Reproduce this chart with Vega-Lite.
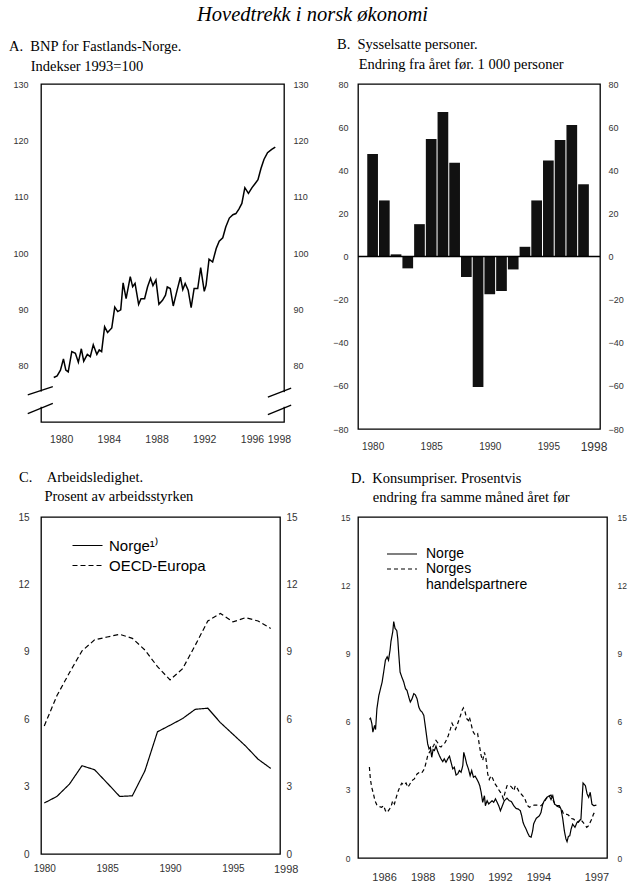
{
  "$schema": "https://vega.github.io/schema/vega-lite/v6.json",
  "background": "white",
  "padding": {"left": 8, "top": 5, "right": 0, "bottom": 0},
  "title": {"text": "Hovedtrekk i norsk økonomi", "font": "Liberation Serif", "fontSize": 20.5, "fontStyle": "italic", "fontWeight": "normal", "color": "#000", "anchor": "start", "frame": "group", "dx": 156, "offset": 10},
  "columns": 2,
  "spacing": {"row": 88, "column": 74},
  "bounds": "flush",
  "resolve": {"scale": {"strokeDash": "independent"}, "legend": {"strokeDash": "independent"}},
  "config": {
    "view": {"stroke": "#000", "strokeWidth": 1.3},
    "axis": {"ticks": false, "domain": false, "grid": false, "labelFont": "Liberation Sans", "labelColor": "#333", "labelOverlap": false, "labelBound": false},
    "title": {"font": "Liberation Serif", "fontWeight": "normal", "color": "#000", "fontSize": 14.5, "anchor": "start", "frame": "group", "lineHeight": 20},
    "legend": {"padding": 0, "symbolType": "M-3,0H3", "symbolSize": 100, "symbolStrokeWidth": 1.2, "labelFont": "Liberation Sans", "labelColor": "#000"}
  },
  "datasets": {
    "bnp": [
      {"year": 1979.39, "value": 77.9}, {"year": 1979.67, "value": 78.2}, {"year": 1979.95, "value": 79.2}, {"year": 1980.2, "value": 81.2},
      {"year": 1980.4, "value": 79.2}, {"year": 1980.6, "value": 78.9}, {"year": 1980.9, "value": 82.5}, {"year": 1981.2, "value": 82.2},
      {"year": 1981.45, "value": 80.6}, {"year": 1981.7, "value": 83.0}, {"year": 1981.9, "value": 80.8}, {"year": 1982.2, "value": 82.0},
      {"year": 1982.45, "value": 81.6}, {"year": 1982.7, "value": 83.7}, {"year": 1983.0, "value": 82.0}, {"year": 1983.2, "value": 82.8},
      {"year": 1983.4, "value": 82.5}, {"year": 1983.65, "value": 86.9}, {"year": 1983.9, "value": 85.9}, {"year": 1984.25, "value": 86.7},
      {"year": 1984.5, "value": 90.4}, {"year": 1984.75, "value": 89.6}, {"year": 1985.0, "value": 89.9}, {"year": 1985.2, "value": 94.7},
      {"year": 1985.45, "value": 91.9}, {"year": 1985.8, "value": 95.8}, {"year": 1986.0, "value": 94.0}, {"year": 1986.2, "value": 94.6},
      {"year": 1986.5, "value": 90.9}, {"year": 1986.7, "value": 91.9}, {"year": 1987.0, "value": 91.9}, {"year": 1987.25, "value": 94.0},
      {"year": 1987.5, "value": 95.5}, {"year": 1987.7, "value": 94.2}, {"year": 1987.95, "value": 95.2}, {"year": 1988.2, "value": 90.9},
      {"year": 1988.5, "value": 91.6}, {"year": 1988.75, "value": 92.5}, {"year": 1988.9, "value": 94.0}, {"year": 1989.15, "value": 93.7},
      {"year": 1989.4, "value": 90.6}, {"year": 1989.7, "value": 93.2}, {"year": 1990.0, "value": 95.7}, {"year": 1990.2, "value": 93.5},
      {"year": 1990.4, "value": 94.6}, {"year": 1990.65, "value": 93.4}, {"year": 1990.9, "value": 90.3}, {"year": 1991.15, "value": 93.7},
      {"year": 1991.45, "value": 93.7}, {"year": 1991.7, "value": 97.4}, {"year": 1992.0, "value": 93.2}, {"year": 1992.15, "value": 94.3},
      {"year": 1992.4, "value": 98.9}, {"year": 1992.7, "value": 98.4}, {"year": 1993.0, "value": 100.8}, {"year": 1993.25, "value": 102.1},
      {"year": 1993.55, "value": 102.7}, {"year": 1993.8, "value": 104.6}, {"year": 1994.1, "value": 106.2}, {"year": 1994.4, "value": 106.8},
      {"year": 1994.65, "value": 107.0}, {"year": 1994.9, "value": 107.8}, {"year": 1995.15, "value": 108.8}, {"year": 1995.4, "value": 111.6},
      {"year": 1995.7, "value": 110.6}, {"year": 1996.0, "value": 111.6}, {"year": 1996.25, "value": 112.3}, {"year": 1996.5, "value": 113.0},
      {"year": 1996.75, "value": 115.0}, {"year": 1997.0, "value": 116.6}, {"year": 1997.3, "value": 117.8}, {"year": 1997.65, "value": 118.4},
      {"year": 1997.95, "value": 118.8}
    ],
    "bnpGap": [
      {"x": 1978.17, "x2": 1978.47, "y": 72.7, "y2": 75.4},
      {"x": 1998.53, "x2": 1998.83, "y": 72.7, "y2": 75.3}
    ],
    "bnpBreak": [
      {"x": 1977.21, "y": 74.8, "x2": 1979.31, "y2": 76.3},
      {"x": 1977.21, "y": 71.5, "x2": 1979.31, "y2": 73.3},
      {"x": 1997.33, "y": 74.4, "x2": 1999.28, "y2": 76.0},
      {"x": 1997.33, "y": 71.3, "x2": 1999.28, "y2": 73.0}
    ],
    "sys": [
      {"year": 1980, "value": 47.5}, {"year": 1981, "value": 26}, {"year": 1982, "value": 1}, {"year": 1983, "value": -5.5},
      {"year": 1984, "value": 15}, {"year": 1985, "value": 54.5}, {"year": 1986, "value": 67}, {"year": 1987, "value": 43.5},
      {"year": 1988, "value": -9.5}, {"year": 1989, "value": -60.5}, {"year": 1990, "value": -17.5}, {"year": 1991, "value": -16},
      {"year": 1992, "value": -6}, {"year": 1993, "value": 4.5}, {"year": 1994, "value": 26}, {"year": 1995, "value": 44.5},
      {"year": 1996, "value": 54}, {"year": 1997, "value": 61}, {"year": 1998, "value": 33.5}
    ],
    "ledig": [
      {"year": 1980, "value": 2.27, "series": "Norge¹⁾"}, {"year": 1981, "value": 2.56, "series": "Norge¹⁾"},
      {"year": 1982, "value": 3.11, "series": "Norge¹⁾"}, {"year": 1983, "value": 3.93, "series": "Norge¹⁾"},
      {"year": 1984, "value": 3.75, "series": "Norge¹⁾"}, {"year": 1985, "value": 3.16, "series": "Norge¹⁾"},
      {"year": 1986, "value": 2.56, "series": "Norge¹⁾"}, {"year": 1987, "value": 2.59, "series": "Norge¹⁾"},
      {"year": 1988, "value": 3.7, "series": "Norge¹⁾"}, {"year": 1989, "value": 5.44, "series": "Norge¹⁾"},
      {"year": 1990, "value": 5.73, "series": "Norge¹⁾"}, {"year": 1991, "value": 6.03, "series": "Norge¹⁾"},
      {"year": 1992, "value": 6.44, "series": "Norge¹⁾"}, {"year": 1993, "value": 6.49, "series": "Norge¹⁾"},
      {"year": 1994, "value": 5.85, "series": "Norge¹⁾"}, {"year": 1995, "value": 5.33, "series": "Norge¹⁾"},
      {"year": 1996, "value": 4.81, "series": "Norge¹⁾"}, {"year": 1997, "value": 4.22, "series": "Norge¹⁾"},
      {"year": 1998, "value": 3.81, "series": "Norge¹⁾"},
      {"year": 1980, "value": 5.7, "series": "OECD-Europa"}, {"year": 1981, "value": 7.04, "series": "OECD-Europa"},
      {"year": 1982, "value": 8.07, "series": "OECD-Europa"}, {"year": 1983, "value": 9.04, "series": "OECD-Europa"},
      {"year": 1984, "value": 9.53, "series": "OECD-Europa"}, {"year": 1985, "value": 9.66, "series": "OECD-Europa"},
      {"year": 1986, "value": 9.78, "series": "OECD-Europa"}, {"year": 1987, "value": 9.6, "series": "OECD-Europa"},
      {"year": 1988, "value": 9.08, "series": "OECD-Europa"}, {"year": 1989, "value": 8.34, "series": "OECD-Europa"},
      {"year": 1990, "value": 7.75, "series": "OECD-Europa"}, {"year": 1991, "value": 8.25, "series": "OECD-Europa"},
      {"year": 1992, "value": 9.29, "series": "OECD-Europa"}, {"year": 1993, "value": 10.37, "series": "OECD-Europa"},
      {"year": 1994, "value": 10.71, "series": "OECD-Europa"}, {"year": 1995, "value": 10.33, "series": "OECD-Europa"},
      {"year": 1996, "value": 10.52, "series": "OECD-Europa"}, {"year": 1997, "value": 10.37, "series": "OECD-Europa"},
      {"year": 1998, "value": 10.04, "series": "OECD-Europa"}
    ],
    "kpi": [
      {"year": 1985.24, "value": 6.1, "series": "Norge"}, {"year": 1985.3, "value": 6.15, "series": "Norge"},
      {"year": 1985.37, "value": 5.9, "series": "Norge"}, {"year": 1985.42, "value": 5.54, "series": "Norge"},
      {"year": 1985.51, "value": 5.83, "series": "Norge"}, {"year": 1985.56, "value": 5.65, "series": "Norge"},
      {"year": 1985.63, "value": 6.57, "series": "Norge"}, {"year": 1985.73, "value": 7.15, "series": "Norge"},
      {"year": 1985.9, "value": 7.74, "series": "Norge"}, {"year": 1985.98, "value": 8.18, "series": "Norge"},
      {"year": 1986.07, "value": 8.7, "series": "Norge"}, {"year": 1986.16, "value": 8.85, "series": "Norge"},
      {"year": 1986.23, "value": 8.7, "series": "Norge"}, {"year": 1986.31, "value": 9.14, "series": "Norge"},
      {"year": 1986.36, "value": 9.54, "series": "Norge"}, {"year": 1986.45, "value": 9.95, "series": "Norge"},
      {"year": 1986.5, "value": 10.4, "series": "Norge"}, {"year": 1986.57, "value": 10.1, "series": "Norge"},
      {"year": 1986.66, "value": 10.0, "series": "Norge"}, {"year": 1986.71, "value": 9.65, "series": "Norge"},
      {"year": 1986.76, "value": 9.0, "series": "Norge"}, {"year": 1986.83, "value": 8.18, "series": "Norge"},
      {"year": 1986.92, "value": 7.96, "series": "Norge"}, {"year": 1987.02, "value": 7.74, "series": "Norge"},
      {"year": 1987.11, "value": 7.45, "series": "Norge"}, {"year": 1987.19, "value": 7.37, "series": "Norge"},
      {"year": 1987.28, "value": 7.08, "series": "Norge"}, {"year": 1987.36, "value": 6.86, "series": "Norge"},
      {"year": 1987.45, "value": 7.0, "series": "Norge"}, {"year": 1987.54, "value": 7.23, "series": "Norge"},
      {"year": 1987.62, "value": 7.18, "series": "Norge"}, {"year": 1987.71, "value": 7.0, "series": "Norge"},
      {"year": 1987.8, "value": 6.64, "series": "Norge"}, {"year": 1987.88, "value": 6.49, "series": "Norge"},
      {"year": 1987.97, "value": 6.42, "series": "Norge"}, {"year": 1988.06, "value": 6.27, "series": "Norge"},
      {"year": 1988.12, "value": 5.9, "series": "Norge"}, {"year": 1988.19, "value": 5.46, "series": "Norge"},
      {"year": 1988.26, "value": 5.02, "series": "Norge"}, {"year": 1988.33, "value": 4.8, "series": "Norge"},
      {"year": 1988.4, "value": 4.87, "series": "Norge"}, {"year": 1988.47, "value": 4.43, "series": "Norge"},
      {"year": 1988.54, "value": 4.77, "series": "Norge"}, {"year": 1988.61, "value": 4.73, "series": "Norge"},
      {"year": 1988.69, "value": 4.92, "series": "Norge"}, {"year": 1988.78, "value": 4.68, "series": "Norge"},
      {"year": 1988.87, "value": 4.5, "series": "Norge"}, {"year": 1988.95, "value": 4.36, "series": "Norge"},
      {"year": 1989.04, "value": 4.24, "series": "Norge"}, {"year": 1989.12, "value": 4.36, "series": "Norge"},
      {"year": 1989.21, "value": 4.21, "series": "Norge"}, {"year": 1989.3, "value": 4.36, "series": "Norge"},
      {"year": 1989.39, "value": 4.48, "series": "Norge"}, {"year": 1989.47, "value": 4.21, "series": "Norge"},
      {"year": 1989.56, "value": 3.92, "series": "Norge"}, {"year": 1989.64, "value": 3.99, "series": "Norge"},
      {"year": 1989.73, "value": 3.65, "series": "Norge"}, {"year": 1989.82, "value": 3.7, "series": "Norge"},
      {"year": 1989.9, "value": 3.85, "series": "Norge"}, {"year": 1989.99, "value": 3.77, "series": "Norge"},
      {"year": 1990.08, "value": 4.07, "series": "Norge"}, {"year": 1990.13, "value": 4.65, "series": "Norge"},
      {"year": 1990.2, "value": 4.43, "series": "Norge"}, {"year": 1990.28, "value": 4.14, "series": "Norge"},
      {"year": 1990.37, "value": 3.92, "series": "Norge"}, {"year": 1990.46, "value": 3.62, "series": "Norge"},
      {"year": 1990.54, "value": 3.85, "series": "Norge"}, {"year": 1990.63, "value": 3.55, "series": "Norge"},
      {"year": 1990.72, "value": 3.6, "series": "Norge"}, {"year": 1990.8, "value": 3.48, "series": "Norge"},
      {"year": 1990.89, "value": 3.33, "series": "Norge"}, {"year": 1990.96, "value": 3.18, "series": "Norge"},
      {"year": 1991.03, "value": 2.89, "series": "Norge"}, {"year": 1991.11, "value": 2.45, "series": "Norge"},
      {"year": 1991.2, "value": 2.74, "series": "Norge"}, {"year": 1991.25, "value": 2.3, "series": "Norge"},
      {"year": 1991.34, "value": 2.52, "series": "Norge"}, {"year": 1991.42, "value": 2.38, "series": "Norge"},
      {"year": 1991.51, "value": 2.45, "series": "Norge"}, {"year": 1991.6, "value": 2.52, "series": "Norge"},
      {"year": 1991.68, "value": 2.45, "series": "Norge"}, {"year": 1991.77, "value": 2.6, "series": "Norge"},
      {"year": 1991.86, "value": 2.45, "series": "Norge"}, {"year": 1991.94, "value": 2.3, "series": "Norge"},
      {"year": 1992.03, "value": 2.08, "series": "Norge"}, {"year": 1992.13, "value": 2.3, "series": "Norge"},
      {"year": 1992.23, "value": 2.52, "series": "Norge"}, {"year": 1992.37, "value": 2.63, "series": "Norge"},
      {"year": 1992.49, "value": 2.52, "series": "Norge"}, {"year": 1992.6, "value": 2.48, "series": "Norge"},
      {"year": 1992.72, "value": 2.3, "series": "Norge"}, {"year": 1992.84, "value": 2.18, "series": "Norge"},
      {"year": 1992.96, "value": 2.15, "series": "Norge"}, {"year": 1993.06, "value": 2.08, "series": "Norge"},
      {"year": 1993.13, "value": 1.86, "series": "Norge"}, {"year": 1993.2, "value": 1.57, "series": "Norge"},
      {"year": 1993.27, "value": 1.42, "series": "Norge"}, {"year": 1993.36, "value": 1.27, "series": "Norge"},
      {"year": 1993.44, "value": 1.1, "series": "Norge"}, {"year": 1993.53, "value": 0.95, "series": "Norge"},
      {"year": 1993.62, "value": 0.92, "series": "Norge"}, {"year": 1993.7, "value": 1.2, "series": "Norge"},
      {"year": 1993.75, "value": 1.5, "series": "Norge"}, {"year": 1993.88, "value": 1.74, "series": "Norge"},
      {"year": 1994.05, "value": 1.86, "series": "Norge"}, {"year": 1994.13, "value": 2.0, "series": "Norge"},
      {"year": 1994.22, "value": 2.37, "series": "Norge"}, {"year": 1994.3, "value": 2.52, "series": "Norge"},
      {"year": 1994.44, "value": 2.67, "series": "Norge"}, {"year": 1994.56, "value": 2.74, "series": "Norge"},
      {"year": 1994.65, "value": 2.57, "series": "Norge"}, {"year": 1994.74, "value": 2.74, "series": "Norge"},
      {"year": 1994.83, "value": 2.37, "series": "Norge"}, {"year": 1994.96, "value": 2.3, "series": "Norge"},
      {"year": 1995.08, "value": 2.3, "series": "Norge"}, {"year": 1995.17, "value": 2.15, "series": "Norge"},
      {"year": 1995.26, "value": 1.71, "series": "Norge"}, {"year": 1995.34, "value": 1.2, "series": "Norge"},
      {"year": 1995.42, "value": 0.85, "series": "Norge"}, {"year": 1995.48, "value": 0.72, "series": "Norge"},
      {"year": 1995.55, "value": 0.95, "series": "Norge"}, {"year": 1995.62, "value": 0.98, "series": "Norge"},
      {"year": 1995.69, "value": 1.27, "series": "Norge"}, {"year": 1995.77, "value": 1.49, "series": "Norge"},
      {"year": 1995.89, "value": 1.35, "series": "Norge"}, {"year": 1996.0, "value": 1.57, "series": "Norge"},
      {"year": 1996.12, "value": 1.64, "series": "Norge"}, {"year": 1996.2, "value": 1.71, "series": "Norge"},
      {"year": 1996.26, "value": 2.6, "series": "Norge"}, {"year": 1996.31, "value": 3.3, "series": "Norge"},
      {"year": 1996.43, "value": 3.18, "series": "Norge"}, {"year": 1996.52, "value": 2.82, "series": "Norge"},
      {"year": 1996.6, "value": 2.67, "series": "Norge"}, {"year": 1996.68, "value": 2.89, "series": "Norge"},
      {"year": 1996.77, "value": 2.37, "series": "Norge"}, {"year": 1996.86, "value": 2.3, "series": "Norge"},
      {"year": 1997.0, "value": 2.33, "series": "Norge"},
      {"year": 1985.24, "value": 4.0, "series": "Norges handelspartnere"}, {"year": 1985.29, "value": 3.48, "series": "Norges handelspartnere"},
      {"year": 1985.36, "value": 3.11, "series": "Norges handelspartnere"}, {"year": 1985.45, "value": 2.82, "series": "Norges handelspartnere"},
      {"year": 1985.53, "value": 2.52, "series": "Norges handelspartnere"}, {"year": 1985.63, "value": 2.33, "series": "Norges handelspartnere"},
      {"year": 1985.75, "value": 2.26, "series": "Norges handelspartnere"}, {"year": 1985.87, "value": 2.23, "series": "Norges handelspartnere"},
      {"year": 1985.98, "value": 2.3, "series": "Norges handelspartnere"}, {"year": 1986.07, "value": 2.08, "series": "Norges handelspartnere"},
      {"year": 1986.16, "value": 2.0, "series": "Norges handelspartnere"}, {"year": 1986.28, "value": 2.15, "series": "Norges handelspartnere"},
      {"year": 1986.36, "value": 2.26, "series": "Norges handelspartnere"}, {"year": 1986.45, "value": 2.52, "series": "Norges handelspartnere"},
      {"year": 1986.54, "value": 2.38, "series": "Norges handelspartnere"}, {"year": 1986.62, "value": 2.63, "series": "Norges handelspartnere"},
      {"year": 1986.71, "value": 2.89, "series": "Norges handelspartnere"}, {"year": 1986.83, "value": 3.15, "series": "Norges handelspartnere"},
      {"year": 1986.92, "value": 3.29, "series": "Norges handelspartnere"}, {"year": 1987.02, "value": 3.21, "series": "Norges handelspartnere"},
      {"year": 1987.14, "value": 3.3, "series": "Norges handelspartnere"}, {"year": 1987.23, "value": 3.11, "series": "Norges handelspartnere"},
      {"year": 1987.31, "value": 3.21, "series": "Norges handelspartnere"}, {"year": 1987.43, "value": 3.4, "series": "Norges handelspartnere"},
      {"year": 1987.57, "value": 3.48, "series": "Norges handelspartnere"}, {"year": 1987.71, "value": 3.7, "series": "Norges handelspartnere"},
      {"year": 1987.83, "value": 3.77, "series": "Norges handelspartnere"}, {"year": 1987.95, "value": 3.74, "series": "Norges handelspartnere"},
      {"year": 1988.09, "value": 3.92, "series": "Norges handelspartnere"}, {"year": 1988.18, "value": 4.21, "series": "Norges handelspartnere"},
      {"year": 1988.26, "value": 4.5, "series": "Norges handelspartnere"}, {"year": 1988.35, "value": 4.65, "series": "Norges handelspartnere"},
      {"year": 1988.44, "value": 4.77, "series": "Norges handelspartnere"}, {"year": 1988.57, "value": 4.95, "series": "Norges handelspartnere"},
      {"year": 1988.69, "value": 5.17, "series": "Norges handelspartnere"}, {"year": 1988.78, "value": 5.07, "series": "Norges handelspartnere"},
      {"year": 1988.87, "value": 4.92, "series": "Norges handelspartnere"}, {"year": 1988.95, "value": 4.88, "series": "Norges handelspartnere"},
      {"year": 1989.04, "value": 4.98, "series": "Norges handelspartnere"}, {"year": 1989.16, "value": 5.07, "series": "Norges handelspartnere"},
      {"year": 1989.26, "value": 5.24, "series": "Norges handelspartnere"}, {"year": 1989.33, "value": 5.39, "series": "Norges handelspartnere"},
      {"year": 1989.44, "value": 5.68, "series": "Norges handelspartnere"}, {"year": 1989.52, "value": 5.93, "series": "Norges handelspartnere"},
      {"year": 1989.61, "value": 5.76, "series": "Norges handelspartnere"}, {"year": 1989.7, "value": 5.65, "series": "Norges handelspartnere"},
      {"year": 1989.78, "value": 5.83, "series": "Norges handelspartnere"}, {"year": 1989.87, "value": 6.05, "series": "Norges handelspartnere"},
      {"year": 1989.96, "value": 6.27, "series": "Norges handelspartnere"}, {"year": 1990.04, "value": 6.49, "series": "Norges handelspartnere"},
      {"year": 1990.11, "value": 6.6, "series": "Norges handelspartnere"}, {"year": 1990.2, "value": 6.42, "series": "Norges handelspartnere"},
      {"year": 1990.28, "value": 6.13, "series": "Norges handelspartnere"}, {"year": 1990.37, "value": 6.05, "series": "Norges handelspartnere"},
      {"year": 1990.42, "value": 6.2, "series": "Norges handelspartnere"}, {"year": 1990.51, "value": 5.9, "series": "Norges handelspartnere"},
      {"year": 1990.6, "value": 5.57, "series": "Norges handelspartnere"}, {"year": 1990.68, "value": 5.46, "series": "Norges handelspartnere"},
      {"year": 1990.77, "value": 5.39, "series": "Norges handelspartnere"}, {"year": 1990.85, "value": 5.46, "series": "Norges handelspartnere"},
      {"year": 1990.94, "value": 4.95, "series": "Norges handelspartnere"}, {"year": 1991.03, "value": 4.5, "series": "Norges handelspartnere"},
      {"year": 1991.11, "value": 4.29, "series": "Norges handelspartnere"}, {"year": 1991.2, "value": 4.65, "series": "Norges handelspartnere"},
      {"year": 1991.28, "value": 4.36, "series": "Norges handelspartnere"}, {"year": 1991.37, "value": 3.7, "series": "Norges handelspartnere"},
      {"year": 1991.45, "value": 3.45, "series": "Norges handelspartnere"}, {"year": 1991.54, "value": 3.62, "series": "Norges handelspartnere"},
      {"year": 1991.63, "value": 3.5, "series": "Norges handelspartnere"}, {"year": 1991.72, "value": 3.3, "series": "Norges handelspartnere"},
      {"year": 1991.84, "value": 3.15, "series": "Norges handelspartnere"}, {"year": 1991.97, "value": 2.96, "series": "Norges handelspartnere"},
      {"year": 1992.09, "value": 2.82, "series": "Norges handelspartnere"}, {"year": 1992.18, "value": 2.6, "series": "Norges handelspartnere"},
      {"year": 1992.27, "value": 2.89, "series": "Norges handelspartnere"}, {"year": 1992.37, "value": 3.18, "series": "Norges handelspartnere"},
      {"year": 1992.49, "value": 3.21, "series": "Norges handelspartnere"}, {"year": 1992.62, "value": 3.11, "series": "Norges handelspartnere"},
      {"year": 1992.72, "value": 2.96, "series": "Norges handelspartnere"}, {"year": 1992.8, "value": 3.18, "series": "Norges handelspartnere"},
      {"year": 1992.92, "value": 3.04, "series": "Norges handelspartnere"}, {"year": 1993.01, "value": 2.89, "series": "Norges handelspartnere"},
      {"year": 1993.1, "value": 2.82, "series": "Norges handelspartnere"}, {"year": 1993.18, "value": 2.74, "series": "Norges handelspartnere"},
      {"year": 1993.27, "value": 2.67, "series": "Norges handelspartnere"}, {"year": 1993.36, "value": 2.45, "series": "Norges handelspartnere"},
      {"year": 1993.44, "value": 2.3, "series": "Norges handelspartnere"}, {"year": 1993.53, "value": 2.23, "series": "Norges handelspartnere"},
      {"year": 1993.65, "value": 2.3, "series": "Norges handelspartnere"}, {"year": 1993.79, "value": 2.33, "series": "Norges handelspartnere"},
      {"year": 1993.96, "value": 2.33, "series": "Norges handelspartnere"}, {"year": 1994.13, "value": 2.3, "series": "Norges handelspartnere"},
      {"year": 1994.27, "value": 2.42, "series": "Norges handelspartnere"}, {"year": 1994.39, "value": 2.6, "series": "Norges handelspartnere"},
      {"year": 1994.51, "value": 2.71, "series": "Norges handelspartnere"}, {"year": 1994.65, "value": 2.77, "series": "Norges handelspartnere"},
      {"year": 1994.79, "value": 2.48, "series": "Norges handelspartnere"}, {"year": 1994.91, "value": 2.3, "series": "Norges handelspartnere"},
      {"year": 1995.08, "value": 2.23, "series": "Norges handelspartnere"}, {"year": 1995.2, "value": 2.15, "series": "Norges handelspartnere"},
      {"year": 1995.3, "value": 1.93, "series": "Norges handelspartnere"}, {"year": 1995.43, "value": 1.93, "series": "Norges handelspartnere"},
      {"year": 1995.55, "value": 1.89, "series": "Norges handelspartnere"}, {"year": 1995.69, "value": 1.74, "series": "Norges handelspartnere"},
      {"year": 1995.82, "value": 1.71, "series": "Norges handelspartnere"}, {"year": 1995.95, "value": 1.6, "series": "Norges handelspartnere"},
      {"year": 1996.07, "value": 1.57, "series": "Norges handelspartnere"}, {"year": 1996.17, "value": 1.71, "series": "Norges handelspartnere"},
      {"year": 1996.28, "value": 1.6, "series": "Norges handelspartnere"}, {"year": 1996.38, "value": 1.49, "series": "Norges handelspartnere"},
      {"year": 1996.5, "value": 1.35, "series": "Norges handelspartnere"}, {"year": 1996.6, "value": 1.42, "series": "Norges handelspartnere"},
      {"year": 1996.68, "value": 1.57, "series": "Norges handelspartnere"}, {"year": 1996.76, "value": 1.71, "series": "Norges handelspartnere"},
      {"year": 1996.85, "value": 1.93, "series": "Norges handelspartnere"}, {"year": 1996.93, "value": 2.04, "series": "Norges handelspartnere"}
    ]
  },
  "concat": [
    {
      "width": 243, "height": 338,
      "title": {"text": ["A.\u00a0\u00a0BNP for Fastlands-Norge.", "\u200b\u00a0\u00a0\u00a0\u00a0\u00a0\u00a0Indekser 1993=100"], "dx": -32, "offset": 6},
      "layer": [
        {
          "data": {"name": "bnp"},
          "mark": {"type": "line", "color": "#000", "strokeWidth": 1.5},
          "encoding": {
            "x": {"field": "year", "type": "quantitative", "scale": {"domain": [1978.32, 1998.68], "nice": false, "zero": false},
                  "axis": {"title": null, "values": [1980, 1984, 1988, 1992, 1996, 1998], "format": "d", "labelFontSize": 10.5, "labelPadding": 12,
                           "labelOffset": {"condition": {"test": "datum.value == 1998", "value": 3}, "value": 0}}},
            "y": {"field": "value", "type": "quantitative", "scale": {"domain": [70, 130], "nice": false, "zero": false},
                  "axis": {"title": null, "orient": "left", "values": [80, 90, 100, 110, 120, 130], "labelFontSize": 9, "labelPadding": 13}}
          }
        },
        {
          "data": {"name": "bnpGap"},
          "mark": {"type": "rect", "color": "#fff"},
          "encoding": {
            "x": {"field": "x", "type": "quantitative", "scale": {"domain": [1978.32, 1998.68], "nice": false, "zero": false}},
            "x2": {"field": "x2"},
            "y": {"field": "y", "type": "quantitative", "scale": {"domain": [70, 130], "nice": false, "zero": false}, "axis": null},
            "y2": {"field": "y2"}
          }
        },
        {
          "data": {"name": "bnpBreak"},
          "mark": {"type": "rule", "color": "#000", "strokeWidth": 1.3},
          "encoding": {
            "x": {"field": "x", "type": "quantitative", "scale": {"domain": [1978.32, 1998.68], "nice": false, "zero": false}},
            "x2": {"field": "x2"},
            "y": {"field": "y", "type": "quantitative", "scale": {"domain": [70, 130], "nice": false, "zero": false},
                  "axis": {"title": null, "orient": "right", "values": [80, 90, 100, 110, 120, 130], "labelFontSize": 9, "labelPadding": 9}},
            "y2": {"field": "y2"}
          }
        }
      ],
      "resolve": {"axis": {"y": "independent"}}
    },
    {
      "width": 242, "height": 345,
      "title": {"text": ["B.\u00a0\u00a0Sysselsatte personer.", "\u200b\u00a0\u00a0\u00a0\u00a0\u00a0\u00a0Endring fra året før. 1 000 personer"], "dx": -21, "offset": 8},
      "layer": [
        {
          "data": {"name": "sys"},
          "mark": {"type": "bar", "color": "#111", "size": 10.7},
          "encoding": {
            "x": {"field": "year", "type": "quantitative", "scale": {"domain": [1979.18, 1998.98], "nice": false, "zero": false},
                  "axis": {"title": null, "values": [1980, 1985, 1990, 1995, 1998], "format": "d", "labelPadding": 12,
                           "labelFontSize": {"condition": {"test": "datum.value == 1998", "value": 12}, "value": 10},
                           "labelOffset": {"condition": {"test": "datum.value == 1998", "value": 10}, "value": 0}}},
            "y": {"field": "value", "type": "quantitative", "scale": {"domain": [-80, 80], "nice": false},
                  "axis": {"title": null, "orient": "left", "values": [-80, -60, -40, -20, 0, 20, 40, 60, 80], "labelFontSize": 9, "labelPadding": 10}}
          }
        },
        {
          "data": {"values": [{}]},
          "mark": {"type": "rule", "color": "#000", "strokeWidth": 1.6},
          "encoding": {
            "y": {"datum": 0, "type": "quantitative", "scale": {"domain": [-80, 80], "nice": false},
                  "axis": {"title": null, "orient": "right", "values": [-80, -60, -40, -20, 0, 20, 40, 60, 80], "labelFontSize": 9, "labelPadding": 8}}
          }
        }
      ],
      "resolve": {"axis": {"y": "independent"}}
    },
    {
      "width": 239, "height": 337,
      "title": {"text": ["C.\u00a0\u00a0\u00a0\u00a0Arbeidsledighet.", "\u200b\u00a0\u00a0\u00a0\u00a0\u00a0\u00a0\u00a0Prosent av arbeidsstyrken"], "dx": -22, "offset": 8, "lineHeight": 19},
      "layer": [
        {
          "data": {"name": "ledig"},
          "mark": {"type": "line", "color": "#000", "strokeWidth": 1.2},
          "encoding": {
            "x": {"field": "year", "type": "quantitative", "scale": {"domain": [1979.74, 1998.74], "nice": false, "zero": false},
                  "axis": {"title": null, "values": [1980, 1985, 1990, 1995, 1998], "format": "d", "labelPadding": 9,
                           "labelFontSize": {"condition": {"test": "datum.value == 1998", "value": 11}, "value": 10},
                           "labelOffset": {"condition": {"test": "datum.value == 1998", "value": 15}, "value": 0}}},
            "y": {"field": "value", "type": "quantitative", "scale": {"domain": [0, 15], "nice": false},
                  "axis": {"title": null, "orient": "left", "values": [0, 3, 6, 9, 12, 15], "labelFontSize": 10, "labelPadding": 12}},
            "strokeDash": {"field": "series", "type": "nominal",
                           "scale": {"domain": ["Norge¹⁾", "OECD-Europa"], "range": [[1, 0], [5, 3]]},
                           "legend": {"title": null, "orient": "none", "legendX": 39, "legendY": 21, "labelFontSize": 15, "labelOffset": 14, "rowPadding": 4}}
          }
        },
        {
          "data": {"values": [{}]},
          "mark": {"type": "rule", "opacity": 0},
          "encoding": {
            "y": {"datum": 0, "type": "quantitative", "scale": {"domain": [0, 15], "nice": false},
                  "axis": {"title": null, "orient": "right", "values": [0, 3, 6, 9, 12, 15], "labelFontSize": 10, "labelPadding": 6}}
          }
        }
      ],
      "resolve": {"axis": {"y": "independent"}}
    },
    {
      "width": 249, "height": 341,
      "title": {"text": ["D.\u00a0\u00a0Konsumpriser. Prosentvis", "\u200b\u00a0\u00a0\u00a0\u00a0\u00a0\u00a0endring fra samme måned året før"], "dx": -7, "offset": 8, "lineHeight": 19},
      "layer": [
        {
          "data": {"name": "kpi"},
          "mark": {"type": "line", "color": "#000", "strokeWidth": 1.2},
          "encoding": {
            "x": {"field": "year", "type": "quantitative", "scale": {"domain": [1984.65, 1997.55], "nice": false, "zero": false},
                  "axis": {"title": null, "values": [1986, 1988, 1990, 1992, 1994, 1997], "format": "d", "labelFontSize": 11, "labelPadding": 13}},
            "y": {"field": "value", "type": "quantitative", "scale": {"domain": [0, 15], "nice": false},
                  "axis": {"title": null, "orient": "left", "values": [0, 3, 6, 9, 12, 15], "labelFontSize": 8.5, "labelPadding": 8}},
            "strokeDash": {"field": "series", "type": "nominal",
                           "scale": {"domain": ["Norge", "Norges handelspartnere"], "range": [[1, 0], [4, 3]]},
                           "legend": {"title": null, "orient": "none", "legendX": 37, "legendY": 30, "labelFontSize": 14, "labelOffset": 17, "rowPadding": 1,
                                      "labelExpr": "datum.label == 'Norges handelspartnere' ? ['Norges', 'handelspartnere'] : datum.label"}}
          }
        },
        {
          "data": {"values": [{}]},
          "mark": {"type": "rule", "opacity": 0},
          "encoding": {
            "y": {"datum": 0, "type": "quantitative", "scale": {"domain": [0, 15], "nice": false},
                  "axis": {"title": null, "orient": "right", "values": [0, 3, 6, 9, 12, 15], "labelFontSize": 8.5, "labelPadding": 10}}
          }
        }
      ],
      "resolve": {"axis": {"y": "independent"}}
    }
  ]
}
